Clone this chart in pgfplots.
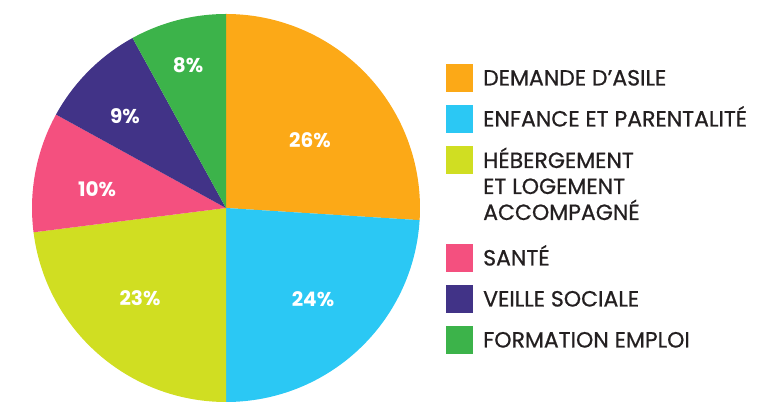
\documentclass[border=0pt]{standalone}
\usepackage{pgfplots}
\usepackage{pgfplotstable}
\pgfplotsset{compat=1.18}
\usepackage{fontspec}
\newfontfamily\pop{Poppins}
\newfontfamily\popm{Poppins}[FakeBold=0.7]
\definecolor{sc0}{HTML}{FCA917}
\definecolor{sc1}{HTML}{2BC8F4}
\definecolor{sc2}{HTML}{D0DE22}
\definecolor{sc3}{HTML}{F4507F}
\definecolor{sc4}{HTML}{413387}
\definecolor{sc5}{HTML}{3CB34A}
\definecolor{txt}{HTML}{231F20}

\pgfplotstableread{
value lx  ly
26    310 263
24    313 104
23    140 105
10    97  214
9     125 287
8     188 338
}\piedata

\newcommand\computeangles{%
  \gdef\runangle{90}%
  \foreach \i in {0,...,5}{%
    \pgfplotstablegetelem{\i}{value}\of\piedata
    \pgfmathsetmacro\sweep{3.6*\pgfplotsretval}%
    \pgfmathsetmacro\endang{\runangle-\sweep}%
    \expandafter\xdef\csname sA\i\endcsname{\runangle}%
    \expandafter\xdef\csname eA\i\endcsname{\endang}%
    \xdef\runangle{\endang}%
  }}

\begin{document}
\begin{tikzpicture}
\useasboundingbox (0,0) rectangle (773pt,403pt);
\computeangles
\begin{axis}[at={(0,0)}, anchor=south west, x=1pt, y=1pt,
  xmin=0, xmax=773, ymin=0, ymax=403, hide axis, clip=false,
  /pgf/number format/assume math mode=true]
\pgfplotsinvokeforeach{0,...,5}{
  \fill[sc#1] (axis cs:226,195) -- ++(\csname sA#1\endcsname:194pt)
     arc[start angle=\csname sA#1\endcsname, end angle=\csname eA#1\endcsname, radius=194pt] -- cycle;
}
\addplot[draw=none, mark=none, point meta=explicit,
  nodes near coords={\pgfmathprintnumber{\pgfplotspointmeta}\%},
  every node near coord/.style={anchor=center, text=white, font=\pop\bfseries\fontsize{20}{20}\selectfont}]
  table[x=lx, y=ly, meta=value] {\piedata};
% legend
\fill[sc0] (axis cs:446,311) rectangle (axis cs:473,339);
\fill[sc1] (axis cs:446,270) rectangle (axis cs:473,298);
\fill[sc2] (axis cs:446,229) rectangle (axis cs:473,257);
\fill[sc3] (axis cs:446,131) rectangle (axis cs:473,159);
\fill[sc4] (axis cs:446,90) rectangle (axis cs:473,118);
\fill[sc5] (axis cs:446,49) rectangle (axis cs:473,77);
\begin{scope}[every node/.style={anchor=base west, inner sep=0pt, text=txt, font=\popm\fontsize{22}{22}\selectfont}]
\node at (axis cs:483,317.5) {DEMANDE D’ASILE};
\node at (axis cs:483,276.5) {ENFANCE ET PARENTALITÉ};
\node at (axis cs:483,235) {HÉBERGEMENT};
\node at (axis cs:483,209) {ET LOGEMENT};
\node at (axis cs:483,183) {ACCOMPAGNÉ};
\node at (axis cs:483,137.5) {SANTÉ};
\node at (axis cs:483,96.5) {VEILLE SOCIALE};
\node at (axis cs:483,55.5) {FORMATION EMPLOI};
\end{scope}
\end{axis}
\end{tikzpicture}
\end{document}
